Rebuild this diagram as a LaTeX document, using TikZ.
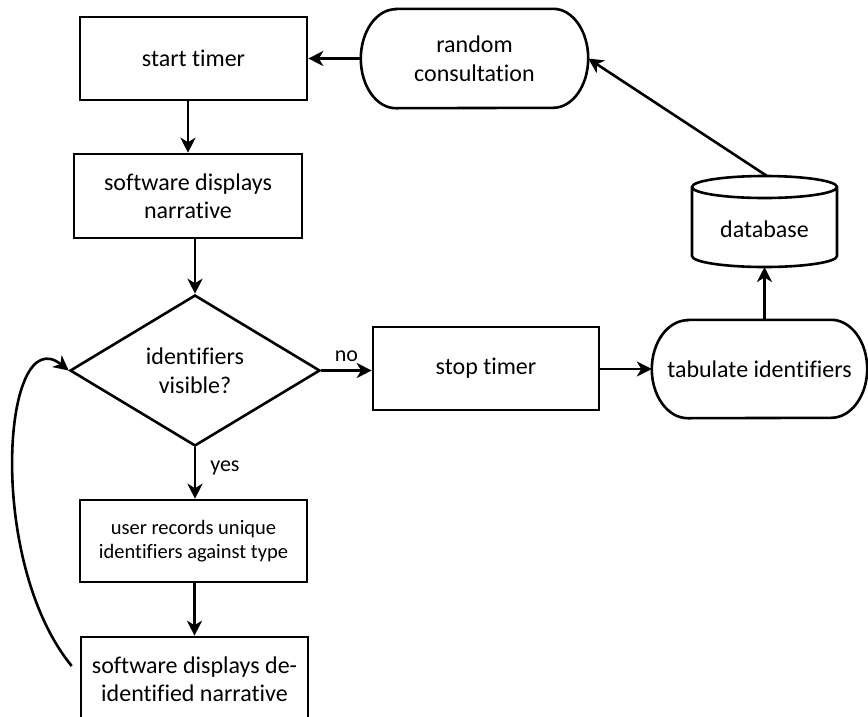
\documentclass[tikz,border=0pt]{standalone}
\usepackage{fontspec}
\setmainfont{Carlito}[Ligatures={NoCommon}]
\usetikzlibrary{arrows.meta,shapes.geometric,calc}
\tikzset{
  x=1pt,y=-1pt,
  ln/.style={line width=2.6pt,line join=miter},
  arr/.style={ln,-{Stealth[length=15pt,width=15pt,inset=4.5pt]}},
  big/.style={font=\fontsize{24pt}{28.5pt}\selectfont,align=center,inner sep=0pt},
  small/.style={font=\fontsize{20.5pt}{24pt}\selectfont,align=center,inner sep=0pt},
  lab/.style={font=\fontsize{22pt}{24pt}\selectfont,inner sep=0pt},
  boxA/.style={big,draw,ln,minimum width=227pt,minimum height=83pt},
  holder/.style={big,inner sep=0pt},
}
\begin{document}
\begin{tikzpicture}
\useasboundingbox (0,0) rectangle (868,716);
% nodes
\node[boxA] (st) at (193.5,58.5) {start timer};
\node[boxA,minimum width=228pt,minimum height=84pt] (sd) at (188,196) {software displays\\narrative};
\node[big,draw,ln,diamond,minimum width=250pt,minimum height=151pt] (dia) at (195,370.5) {identifiers\\visible?};
\node[boxA,small,minimum height=82pt] (uc) at (193.5,541) {user records unique\\identifiers against type};
\node[boxA,minimum height=84pt] (sd2) at (194.5,679) {software displays de-\\identified narrative};
\node[boxA,minimum width=226pt] (stop) at (486,368.5) {stop timer};
\node[holder,minimum width=215pt,minimum height=98pt] (tab) at (759.5,369) {tabulate identifiers};
\node[holder,minimum width=227pt,minimum height=99pt] (rc) at (474.5,58.5) {random\\consultation};
\node[holder] (db) at (764.5,229) {database};
% stadiums
\draw[ln] ([xshift=36pt]tab.north west) -- ([xshift=-36pt]tab.north east)
  arc[start angle=90,end angle=-90,x radius=36pt,y radius=49pt]
  -- ([xshift=36pt]tab.south west)
  arc[start angle=270,end angle=90,x radius=36pt,y radius=49pt] -- cycle;
\draw[ln] ([xshift=35pt]rc.north west) -- ([xshift=-35pt]rc.north east)
  arc[start angle=90,end angle=-90,x radius=35pt,y radius=49.5pt]
  -- ([xshift=35pt]rc.south west)
  arc[start angle=270,end angle=90,x radius=35pt,y radius=49.5pt] -- cycle;
% cylinder
\draw[ln] ($(db)+(-72.5,-42)$) -- ($(db)+(-72.5,27)$)
  arc[start angle=180,end angle=360,x radius=72.5pt,y radius=11pt]
  -- ($(db)+(72.5,-42)$)
  arc[start angle=0,end angle=180,x radius=72.5pt,y radius=11pt]
  arc[start angle=180,end angle=360,x radius=72.5pt,y radius=11pt];
\coordinate (dbtop) at ($(db)+(2.5,-53)$);
\coordinate (dbbot) at ($(db)+(0,38)$);
% connectors
\draw[arr] (rc.west) -- (st.east);
\draw[arr] (st.south -| sd.north) -- (sd.north);
\draw[arr] (sd.south -| dia.north) -- (dia.north);
\draw[arr] (dia.east) -- (stop.west |- dia.east) node[lab,midway,above=8pt] {no};
\draw[arr] (stop.east |- tab.west) -- (tab.west);
\draw[arr] (tab.north -| db) -- (dbbot);
\draw[arr] (dbtop) -- (rc.east);
\draw[arr] (dia.south) -- (uc.north -| dia.south) node[lab,pos=0.4,right=14pt] {yes};
\draw[arr] (uc.south -| sd2.north) -- (sd2.north);
\draw[arr] ($(sd2.west)+(-8,-13)$) .. controls (-15,560) and (3,318) .. (dia.west);
\end{tikzpicture}
\end{document}
